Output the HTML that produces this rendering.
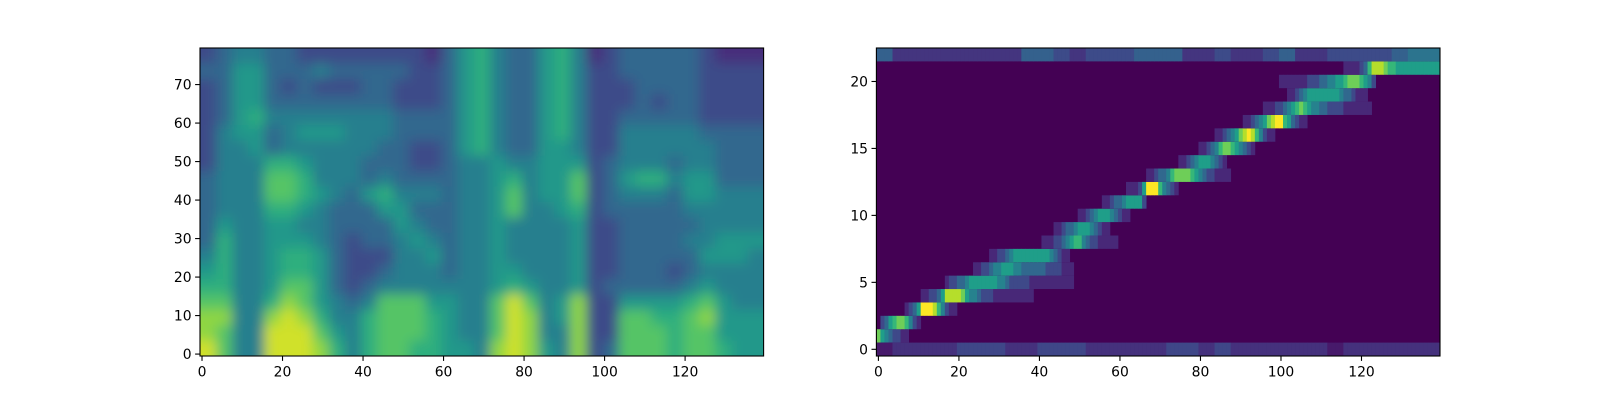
<!DOCTYPE html>
<html><head><meta charset="utf-8"><style>
html,body{margin:0;padding:0;background:#fff;}
svg{display:block;font-family:"DejaVu Sans","Liberation Sans",sans-serif;}
</style></head><body>
<svg id="fig" width="1600" height="400" viewBox="0 0 1600 400" xmlns="http://www.w3.org/2000/svg">
<defs>
<clipPath id="clipL"><rect x="200" y="48" width="563.6" height="308"/></clipPath>
<filter id="soft" x="-5%" y="-5%" width="110%" height="110%"><feGaussianBlur stdDeviation="6"/></filter>
</defs>
<g id="melPanel"><g id="melCells" clip-path="url(#clipL)"><g id="melInner" filter="url(#soft)"></g></g></g>
<g id="attnPanel"></g>
<g id="axesL"></g>
<g id="axesR"></g>
</svg>
<script>
// ---- Spectrogram data: 20 rows (top bins 76-79 first) x 35 columns (4 frames each), digits 0-9 ----
const melRows = [
"23443 32222 22221 35643 35641 23333 32111",
"33553 33433 33322 35643 35642 23333 32222",
"23553 23222 33222 35643 35642 22333 32222",
"23553 33333 33222 35643 35642 22323 32222",
"23564 44444 44333 35643 35642 23333 32222",
"24553 45554 44333 35643 35642 24444 43333",
"24453 44444 43322 35643 35542 24444 44333",
"24446 65444 33322 34454 45552 34443 44333",
"34447 76444 34333 34456 45572 35664 55333",
"34447 76543 56444 34457 45572 34443 55444",
"34446 65433 35533 34457 44562 33333 44444",
"35445 54433 33543 34454 44452 23333 34444",
"36445 55432 33454 34454 44452 23333 44555",
"46445 66532 22445 34454 44452 23333 35554",
"56445 66532 23444 34455 44452 23332 34444",
"66445 77532 34444 44456 54452 33333 45444",
"77446 87543 47775 54479 74582 25555 67544",
"88448 98644 67776 54479 84582 27766 78555",
"87449 99754 67776 54479 84482 27776 77555",
"97449 99864 67766 55489 85482 37776 77655"
];
const melXTicks = [0,20,40,60,80,100,120];
const melYTicks = [0,10,20,30,40,50,60,70];
const melFrames = 140, melBins = 80;

// ---- Alignment data ----
const attnRowIdx =   [1,2,3,4,5,6,7,8,9,10,11,12,13,14,15,16,17,18,19,20,21];
const attnStart =    [0,1,7,11,17,24,28,41,44,50,56,62,67,75,80,84,91,96,102,100,116];
const attnValues = [
"75432211",
"2356776421",
"1235999864211",
"1122358888754432221111111111",
"12233455555554432222211111111111",
"1122344555443333332222111",
"11223455555555543211",
"1112234566432211111",
"11233455543211",
"1123455543211",
"11233455552",
"1112599964321",
"112334677776543221111",
"112345554321",
"11234677654321",
"112345789864211",
"1123457899653211",
"111223456765443322221111111",
"11234555555554332111",
"111111122233445567776542",
"111123688876655555555555"
];
const attnRow0Blocks  = "12222333223332222233232222221222222";
const attnRow22Blocks = "42222222244323334442232234223333455";
const attnXTicks = [0,20,40,60,80,100,120];
const attnYTicks = [0,5,10,15,20];
const attnFrames = 140, attnRows = 23;

// ---- helpers ----
const VIR = ["#440154","#482878","#3e4989","#31688e","#26828e","#1f9e89","#35b779","#6ece58","#b5de2b","#fde725"];
function hex(c){return [parseInt(c.slice(1,3),16),parseInt(c.slice(3,5),16),parseInt(c.slice(5,7),16)];}
function viridis(t){t=Math.max(0,Math.min(1,t));const p=t*(VIR.length-1);const i=Math.min(Math.floor(p),VIR.length-2);const f=p-i;const a=hex(VIR[i]),b=hex(VIR[i+1]);return "rgb("+a.map((v,k)=>Math.round(v+(b[k]-v)*f)).join(",")+")";}
const NS="http://www.w3.org/2000/svg";
function mk(tag,attrs,parent){const e=document.createElementNS(NS,tag);for(const k in attrs)e.setAttribute(k,attrs[k]);parent.appendChild(e);return e;}

const T=48,B=356,W=563.6,H=308;
const LX=200, RX=876.4;
const xL = v => LX + (v+0.5)/melFrames*W;
const yL = v => B - (v+0.5)/melBins*H;
const xR = v => RX + (v+0.5)/attnFrames*W;
const yR = v => B - (v+0.5)/attnRows*H;

// ---- draw spectrogram ----
const melInner=document.getElementById('melInner');
const grid = melRows.map(r=>r.replace(/\s/g,'').split('').map(Number));
const nR=grid.length, nC=grid[0].length, fpc=melFrames/nC, bpr=melBins/nR;
grid.forEach((row,ri)=>{
  row.forEach((d,ci)=>{
    const b0 = (nR-1-ri)*bpr;
    let x0=xL(ci*fpc-0.5), x1=xL(ci*fpc+fpc-0.5);
    let y0=yL(b0+bpr-0.5), y1=yL(b0-0.5);
    if(ci===0)x0-=16; if(ci===nC-1)x1+=16; if(ri===0)y0-=16; if(ri===nR-1)y1+=16;
    const r=mk('rect',{x:x0.toFixed(2),y:y0.toFixed(2),width:(x1-x0+0.6).toFixed(2),height:(y1-y0+0.6).toFixed(2),fill:viridis(d/10+0.03)},melInner);
    
    
  });
});

// ---- draw alignment ----
const ap=document.getElementById('attnPanel');
mk('rect',{x:RX,y:T,width:W,height:H,fill:viridis(0)},ap);
function cell(f,row,val){
  const x0=xR(f-0.5),x1=xR(f+0.5),y0=yR(row+0.5),y1=yR(row-0.5);
  const r=mk('rect',{x:x0.toFixed(2),y:y0.toFixed(2),width:(x1-x0+0.4).toFixed(2),height:(y1-y0).toFixed(2),fill:viridis(val)},ap);
  
  
}
attnValues.forEach((s,i)=>{
  s.split('').map(Number).forEach((d,k)=>{const f=attnStart[i]+k; if(f<attnFrames&&d>0)cell(f,attnRowIdx[i],d/9);});
});
const bpf=attnFrames/attnRow0Blocks.length;
attnRow0Blocks.split('').map(Number).forEach((d,k)=>{for(let j=0;j<bpf;j++)cell(k*bpf+j,0,d/14);});
attnRow22Blocks.split('').map(Number).forEach((d,k)=>{for(let j=0;j<bpf;j++)cell(k*bpf+j,22,d/13);});

// ---- axes ----
function axes(gid,x0,xs,ys,xt,yt){
  const g=document.getElementById(gid);
  const fr=mk('rect',{x:x0,y:T,width:W,height:H,fill:'none',stroke:'#000','stroke-width':1.1},g);
  
  
  xt.forEach(v=>{const x=xs(v);
    mk('line',{x1:x,x2:x,y1:B,y2:B+4.9,stroke:'#000','stroke-width':1.1},g);
    const t=mk('text',{x:x,y:B+20.5,'text-anchor':'middle','font-size':'13.9px',fill:'#000'},g);
    t.textContent=v;
    
    
  });
  yt.forEach(v=>{const y=ys(v);
    mk('line',{x1:x0,x2:x0-4.9,y1:y,y2:y,stroke:'#000','stroke-width':1.1},g);
    const t=mk('text',{x:x0-8.4,y:y+5,'text-anchor':'end','font-size':'13.9px',fill:'#000'},g);
    t.textContent=v;
    
    
  });
}
axes('axesL',LX,xL,yL,melXTicks,melYTicks);
axes('axesR',RX,xR,yR,attnXTicks,attnYTicks);
</script>
</body></html>
